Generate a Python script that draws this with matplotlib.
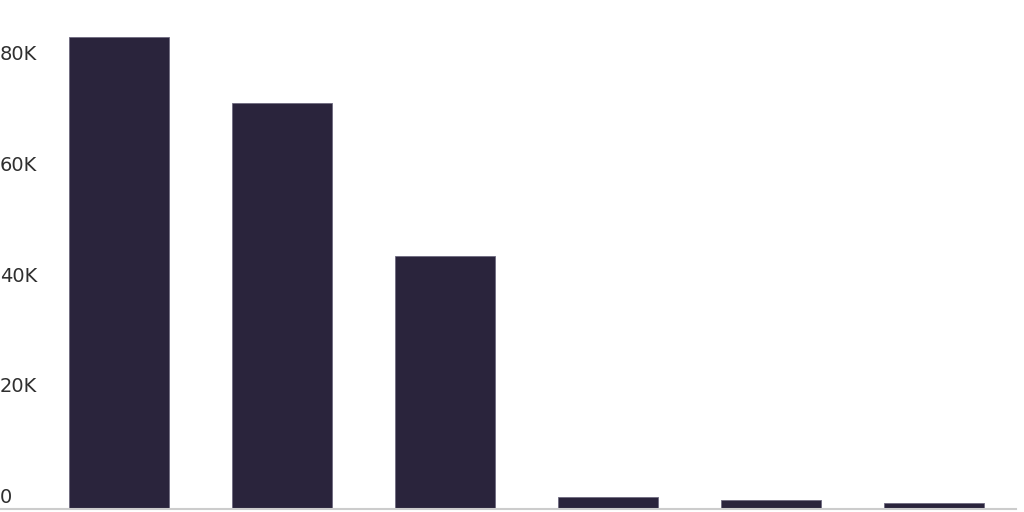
import matplotlib.pyplot as plt

# bar data
categories = ["A", "B", "C", "D", "E", "F"]
values = [85300, 73400, 45600, 2100, 1600, 1000]
tick_values = [0, 20000, 40000, 60000, 80000]
tick_labels = ["0", "20K", "40K", "60K", "80K"]

bar_color = "#2a243c"
text_color = "#2f2f2f"

fig = plt.figure(figsize=(10.24, 5.12), dpi=100)
# axes fill the figure, baseline just above the bottom edge
ax = fig.add_axes([0, 3 / 512, 1016 / 1024, 509 / 512])

x = list(range(len(categories)))
ax.bar(x, values, width=0.614, color=bar_color,
       edgecolor="#6e6a80", linewidth=0.6)

ax.set_xlim(-0.73, 5.506)
ax.set_ylim(0, 509 / 110.75 * 20000)

# y labels sit on top of their (invisible) gridline, at the left edge
for v, lab in zip(tick_values, tick_labels):
    ax.annotate(lab, xy=(0, v), xycoords=ax.get_yaxis_transform(),
                xytext=(0, 4.3), textcoords="offset points",
                ha="left", va="baseline", fontsize=14, color=text_color)

ax.set_xticks([])
ax.set_yticks([])
for side in ["top", "right", "left"]:
    ax.spines[side].set_visible(False)
ax.spines["bottom"].set_color("#cccccc")
ax.spines["bottom"].set_linewidth(1.5)
ax.patch.set_alpha(0)

fig.savefig("out.png", dpi=100)
